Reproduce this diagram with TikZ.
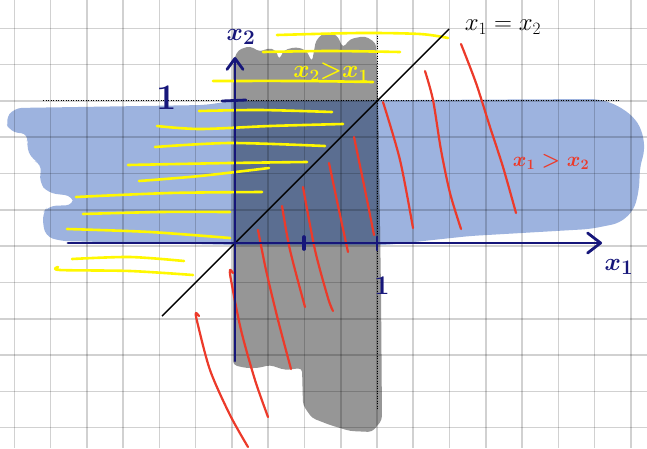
\documentclass[tikz,border=0pt]{standalone}
\usepackage{graphicx}
\usetikzlibrary{arrows.meta}
\definecolor{bluefill}{RGB}{157,179,223}
\definecolor{grayfill}{RGB}{150,150,150}
\definecolor{darkfill}{RGB}{91,110,145}
\definecolor{redpen}{RGB}{236,58,42}
\definecolor{yellowpen}{RGB}{255,248,0}
\definecolor{navypen}{RGB}{22,22,122}
\begin{document}
\begin{tikzpicture}[x=1pt,y=-1pt,
  gridline/.style={black,opacity=0.18,line width=1.6pt},
  yel/.style={yellowpen,line width=2.6pt,line cap=round,line join=round},
  redline/.style={redpen,line width=2.2pt,line cap=round,line join=round},
  axisline/.style={navypen,line width=2.8pt,line cap=round},
  dotline/.style={black,line width=1pt,dash pattern=on 1pt off 1.5pt},
  lbl/.style={inner sep=0pt,outer sep=0pt}]
\useasboundingbox (0,0) rectangle (647,448);
\fill[white] (0,0) rectangle (647,448);
% blue region
\fill[bluefill,rounded corners=8pt] (14,108) -- (205,105) -- (232,101) -- (598,99) -- (615,104) -- (633,116) -- (642,130) -- (645,150) -- (640,166) -- (639,190) -- (634,210) -- (620,223) -- (590,229) -- (470,236) -- (386,245) -- (235,245) -- (60,241) -- (45,236) -- (42,214) -- (48,206) -- (74,205) -- (73,196) -- (48,193) -- (39,182) -- (42,164) -- (32,160) -- (26,145) -- (29,134) -- (10,132) -- (5,120) -- cycle;
% gray region
\fill[grayfill,rounded corners=4pt] (233,365) -- (233,62) -- (238,50) -- (250,46) -- (260,52) -- (268,48) -- (276,50) -- (279,60) -- (284,50) -- (296,47) -- (306,50) -- (312,62) -- (316,40) -- (325,32) -- (337,35) -- (343,48) -- (350,39) -- (365,36) -- (376,43) -- (378,100) -- (381,290) -- (382,420) -- (372,432) -- (350,431) -- (330,425) -- (312,418) -- (303,405) -- (302,368) -- (285,370) -- (270,365) -- (258,368) -- (246,368) -- cycle;
% overlap
\begin{scope}
\clip[rounded corners=8pt] (14,108) -- (205,105) -- (232,101) -- (598,99) -- (615,104) -- (633,116) -- (642,130) -- (645,150) -- (640,166) -- (639,190) -- (634,210) -- (620,223) -- (590,229) -- (470,236) -- (386,245) -- (235,245) -- (60,241) -- (45,236) -- (42,214) -- (48,206) -- (74,205) -- (73,196) -- (48,193) -- (39,182) -- (42,164) -- (32,160) -- (26,145) -- (29,134) -- (10,132) -- (5,120) -- cycle;
\fill[darkfill,rounded corners=4pt] (233,365) -- (233,62) -- (238,50) -- (250,46) -- (260,52) -- (268,48) -- (276,50) -- (279,60) -- (284,50) -- (296,47) -- (306,50) -- (312,62) -- (316,40) -- (325,32) -- (337,35) -- (343,48) -- (350,39) -- (365,36) -- (376,43) -- (378,100) -- (381,290) -- (382,420) -- (372,432) -- (350,431) -- (330,425) -- (312,418) -- (303,405) -- (302,368) -- (285,370) -- (270,365) -- (258,368) -- (246,368) -- cycle;
\end{scope}
% grid
\foreach \i in {0,...,17} \draw[gridline] ({14.3+36.27*\i},0) -- ({14.3+36.27*\i},448);
\foreach \j in {1,...,12} \draw[gridline] (0,{-8+36.3*\j}) -- (647,{-8+36.3*\j});
% dotted unit lines
\draw[dotline] (43,100) -- (619,100);
\draw[dotline] (377,33) -- (377,409);
% yellow hatching
\draw[yel] plot[smooth] coordinates {(277,35) (360,33) (420,34) (448,38)};
\draw[yel] plot[smooth] coordinates {(263,52) (330,51) (400,52)};
\draw[yel] plot[smooth] coordinates {(213,81) (300,81) (373,82)};
\draw[yel] plot[smooth] coordinates {(199,111) (260,110) (332,112)};
\draw[yel] plot[smooth] coordinates {(157,126) (200,129) (270,126) (343,124)};
\draw[yel] plot[smooth] coordinates {(155,147) (230,143) (325,146)};
\draw[yel] plot[smooth] coordinates {(128,165) (230,163) (307,162)};
\draw[yel] plot[smooth] coordinates {(139,181) (200,176) (269,168)};
\draw[yel] plot[smooth] coordinates {(76,197) (170,193) (262,192)};
\draw[yel] plot[smooth] coordinates {(83,214) (160,212) (230,212)};
\draw[yel] plot[smooth] coordinates {(67,229) (150,232) (230,238)};
\draw[yel] plot[smooth] coordinates {(72,259) (130,257) (184,261)};
\draw[yel] plot[smooth] coordinates {(58,267) (60,270) (130,271) (193,275)};
% red hatching
\draw[redline] plot[smooth] coordinates {(199,316) (196,313) (197,321) (210,370) (230,415) (248,447)};
\draw[redline] plot[smooth] coordinates {(233,273) (230,270) (231,280) (241,330) (255,380) (268,417)};
\draw[redline] plot[smooth] coordinates {(258,230) (266,270) (278,320) (291,369)};
\draw[redline] plot[smooth] coordinates {(282,206) (290,250) (305,307)};
\draw[redline] plot[smooth] coordinates {(303,187) (315,250) (328,298) (333,311)};
\draw[redline] plot[smooth] coordinates {(329,163) (340,215) (348,252)};
\draw[redline] plot[smooth] coordinates {(354,137) (365,190) (374,235)};
\draw[redline] plot[smooth] coordinates {(383,102) (400,160) (413,228)};
\draw[redline] plot[smooth] coordinates {(425,71) (433,100) (441,150) (450,193) (461,229)};
\draw[redline] plot[smooth] coordinates {(461,44) (476,83) (490,127) (503,167) (516,213)};
% diagonal x1 = x2
\coordinate (dA) at (162,316);
\coordinate (dB) at (449,29);
\draw[black,line width=1.4pt] (dA) -- (dB);
% axes
\coordinate (O) at (235,243);
\coordinate (x2bot) at (235,361);
\coordinate (x2top) at (235,57);
\coordinate (x1left) at (68,243);
\coordinate (x1right) at (602,243);
\draw[axisline,-{Straight Barb[length=11pt,width=16pt,round]}] (x2bot) -- (x2top);
\draw[axisline,-{Straight Barb[length=13pt,width=20pt,round]}] (x1left) -- (x1right);
% ticks
\draw[axisline] (222,101) -- (246,100);
\draw[axisline,line width=3.6pt] (304,237) -- (304,249);
\draw[axisline,line width=2.2pt] (377,237) -- (377,250);
% labels
\node[lbl,text=navypen] (lx2) at (241,37) {{\fontsize{30}{30}\selectfont{\boldmath$x_2$}}};
\node[lbl,text=navypen] (one2) at (167,98) {{\fontsize{36}{36}\selectfont\bfseries 1}};
\node[lbl,text=navypen] (one1) at (382,286) {{\fontsize{27}{27}\selectfont\bfseries 1}};
\node[lbl,text=navypen] (lx1) at (619,267) {{\fontsize{30}{30}\selectfont{\boldmath$x_1$}}};
\node[lbl,text=black] (diaglbl) at (503,27) {{\fontsize{24}{24}\selectfont$x_1=x_2$}};
\node[lbl,text=redpen] (redlbl) at (551,162) {{\fontsize{20}{20}\selectfont{\boldmath$x_1>x_2$}}};
\node[lbl,text=yellowpen] (yellbl) at (331,72) {{\fontsize{25}{25}\selectfont{\boldmath$x_2{>}x_1$}}};
\end{tikzpicture}
\end{document}
